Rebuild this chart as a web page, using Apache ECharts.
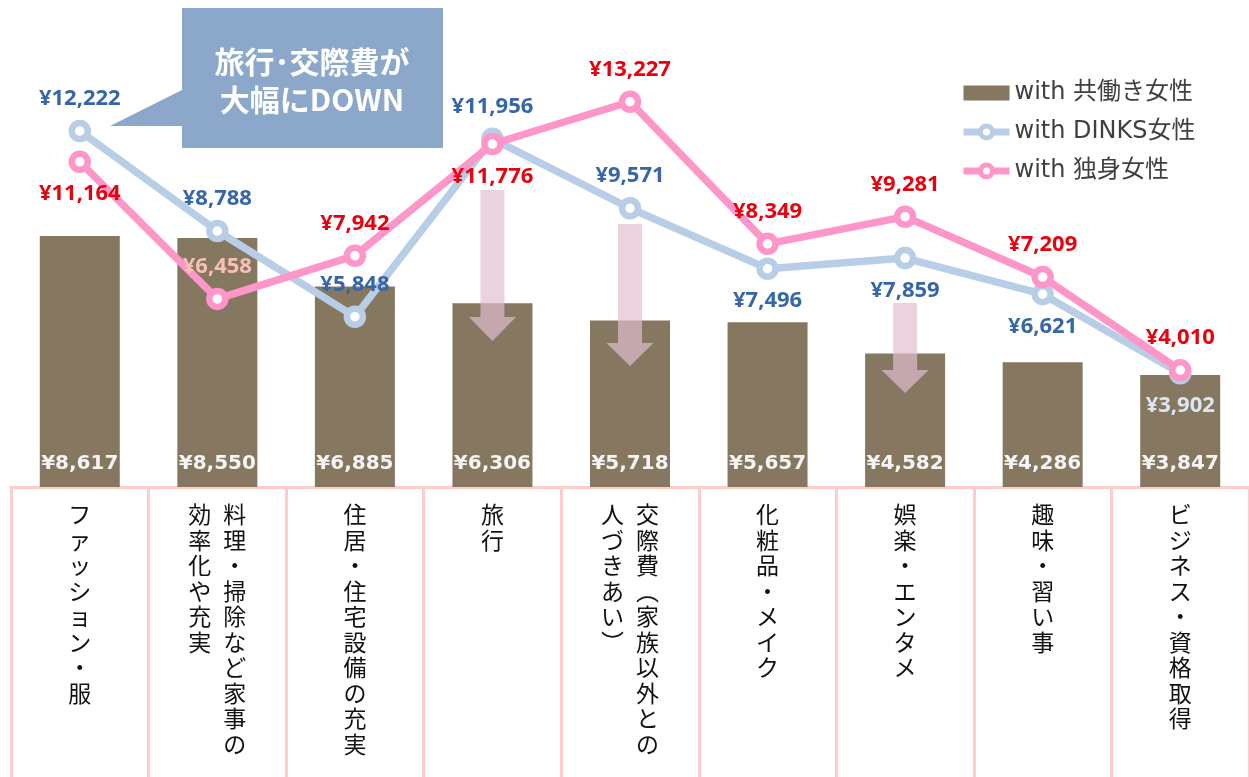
<!DOCTYPE html>
<html>
<head>
<meta charset="utf-8">
<script src="https://cdn.jsdelivr.net/npm/echarts@6/dist/echarts.min.js"></script>
<style>
html, body { margin: 0; padding: 0; background: #fff; }
#chart { width: 1249px; height: 777px; }
</style>
</head>
<body>
<div id="chart"></div>
<script>
const categories = [
  'ファッション・服',
  '料理・掃除など家事の\n効率化や充実',
  '住居・住宅設備の充実',
  '旅行',
  '交際費（家族以外との\n人づきあい）',
  '化粧品・メイク',
  '娯楽・エンタメ',
  '趣味・習い事',
  'ビジネス・資格取得'
]
const seriesNames = ['with 共働き女性', 'with DINKS女性', 'with 独身女性']
const dualIncome = [8617, 8550, 6885, 6306, 5718, 5657, 4582, 4286, 3847]
const dinks = [12222, 8788, 5848, 11956, 9571, 7496, 7859, 6621, 3902]
const single = [11164, 6458, 7942, 11776, 13227, 8349, 9281, 7209, 4010]
const dinksLabelSide = ['top', 'top', 'top', 'top', 'top', 'bottom', 'bottom', 'bottom', 'bottom']
const singleLabelSide = ['bottom', 'top', 'top', 'bottom', 'top', 'top', 'top', 'top', 'top']
const calloutText = '旅行･交際費が\n大幅にDOWN'
const downArrowCats = [3, 4, 6]

const BAR = '#857760'
const BLUE = '#b8cde6'
const PINK = '#ff96c9'
const yen = v => '¥' + Number(v).toLocaleString('en-US')

// vertical (tategaki) category text, columns read right to left
const verticalLabel = text => {
  const cols = text.replace('（', '︵').replace('）', '︶').split('\n').map(s => Array.from(s))
  const rows = Math.max(...cols.map(c => c.length))
  const out = []
  for (let i = 0; i < rows; i++) {
    if (cols.length === 1) out.push('{c|' + cols[0][i] + '}')
    else out.push('{c|' + (cols[1][i] || '　') + '}{g| }{c|' + (cols[0][i] || '　') + '}')
  }
  return out.join('\n')
}

const chart = echarts.init(document.getElementById('chart'))

const lineLabel = { show: true, distance: 10, fontFamily: 'Noto Sans', fontWeight: 'bold', fontSize: 22, formatter: p => yen(p.value) }

chart.setOption({
  animation: false,
  grid: { left: 11, right: 0, top: 21, bottom: 290 },
  legend: {
    orient: 'vertical', left: 955, top: 76, itemWidth: 46, itemHeight: 15, itemGap: 15,
    textStyle: { fontFamily: 'DejaVu Sans, Noto Sans CJK JP', fontSize: 24, color: '#404040' },
    lineStyle: { width: 7 },
    itemStyle: { borderWidth: 5 },
    data: [
      { name: seriesNames[0], icon: 'rect', itemStyle: { borderWidth: 0 } },
      seriesNames[1],
      seriesNames[2]
    ]
  },
  xAxis: {
    type: 'category', data: categories, offset: 5,
    axisLine: { lineStyle: { color: '#ffcccc', width: 3 } },
    axisTick: { show: true, length: 292, lineStyle: { color: '#ffcccc', width: 3 } },
    axisLabel: {
      interval: 0, margin: 10, formatter: verticalLabel,
      rich: {
        c: { fontFamily: 'Noto Sans CJK JP', fontSize: 23, lineHeight: 25.5, color: '#111', width: 24, align: 'center' },
        g: { width: 11, fontSize: 23, lineHeight: 25.5 }
      }
    }
  },
  yAxis: { type: 'value', min: 0, max: 16000, show: false },
  series: [
    {
      name: seriesNames[0], type: 'bar', data: dualIncome, barWidth: 80, z: 2,
      itemStyle: { color: BAR },
      label: {
        show: true, position: 'insideBottom', distance: 13, color: '#f5f5f5',
        fontFamily: 'DejaVu Sans', fontWeight: 'bold', fontSize: 20, formatter: p => yen(p.value)
      }
    },
    {
      name: seriesNames[1], type: 'line', z: 4, symbol: 'circle', symbolSize: 16,
      lineStyle: { color: BLUE, width: 7.5 },
      itemStyle: { color: '#fff', borderColor: BLUE, borderWidth: 6.5 },
      label: lineLabel,
      data: dinks.map((v, i) => ({
        value: v,
        label: { position: dinksLabelSide[i], color: i === 8 ? '#dce6f2' : '#3566a8' }
      }))
    },
    {
      name: seriesNames[2], type: 'line', z: 5, symbol: 'circle', symbolSize: 16,
      lineStyle: { color: PINK, width: 7.5 },
      itemStyle: { color: '#fff', borderColor: PINK, borderWidth: 6.5 },
      label: lineLabel,
      data: single.map((v, i) => ({
        value: v,
        label: { position: singleLabelSide[i], color: i === 1 ? '#f8c0b6' : '#e8000e' }
      }))
    }
  ]
})

// annotation: down arrows + speech bubble
const arrowSpans = [[190, 317, 341], [224, 343, 366], [303, 370, 393]]
const arrows = downArrowCats.map((c, k) => {
  const x = chart.convertToPixel({ xAxisIndex: 0 }, categories[c])
  const [top, headTop, tip] = arrowSpans[k]
  return {
    type: 'polygon', z: 3,
    shape: { points: [[x - 12, top], [x + 12, top], [x + 12, headTop], [x + 23.5, headTop], [x, tip], [x - 23.5, headTop], [x - 12, headTop]] },
    style: { fill: 'rgba(224,190,207,0.69)' }
  }
})

chart.setOption({
  graphic: [
    ...arrows,
    {
      type: 'polygon', z: 3,
      shape: { points: [[182, 8], [443, 8], [443, 148], [182, 148], [182, 126], [110, 126], [182, 90]] },
      style: { fill: '#8ba8cb' }
    },
    {
      type: 'text', z: 4, x: 312, y: 81,
      style: {
        text: calloutText, fill: '#fff', font: 'bold 30px "Noto Sans CJK JP"',
        lineHeight: 38, align: 'center', verticalAlign: 'middle'
      }
    }
  ]
})
</script>
</body>
</html>
